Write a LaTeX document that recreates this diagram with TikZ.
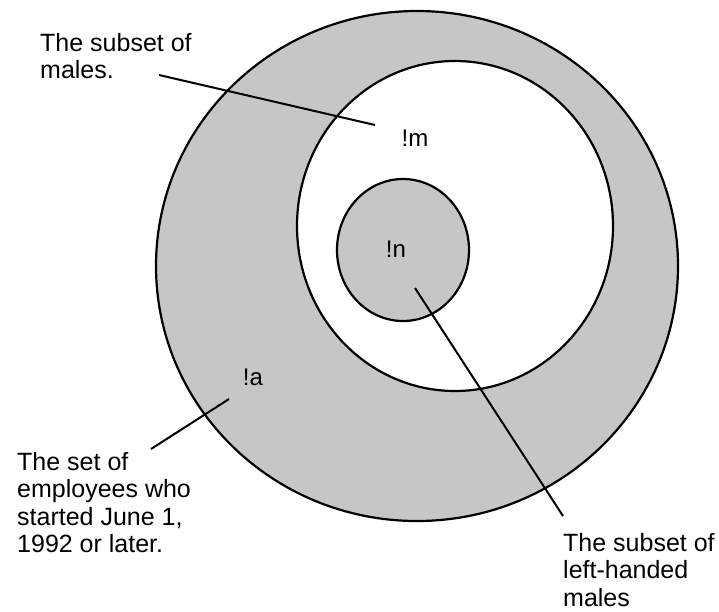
\documentclass[tikz,border=0pt]{standalone}
\usepackage{fontspec}
\setmainfont{Liberation Sans}
\usetikzlibrary{shapes.geometric}
\definecolor{shade}{RGB}{198,198,198}
\begin{document}
\begin{tikzpicture}[x=1pt,y=-1pt,
  setshape/.style={ellipse,draw=black,line width=2.2pt,inner sep=0pt},
  lbl/.style={align=left,inner sep=0pt,anchor=north west,font=\fontsize{25}{27.5}\selectfont},
  tag/.style={inner sep=0pt,anchor=base,font=\fontsize{24}{26}\selectfont},
  lead/.style={draw=black,line width=2pt}]
\useasboundingbox (0,0) rectangle (719,611);
\node[setshape,fill=shade,minimum width=522pt,minimum height=510pt] (outer) at (417,266) {};
\node[setshape,fill=white,minimum width=316pt,minimum height=330pt] (inner) at (455,226) {};
\node[setshape,fill=shade,minimum width=132pt,minimum height=142pt] (small) at (403,250) {};
\node[tag] (m) at (415,146) {!m};
\node[tag] (n) at (396,257) {!n};
\node[tag] (a) at (253,385) {!a};
\node[lbl] (males) at (40,33) {The subset of\\males.};
\node[lbl] (emp) at (17,452) {The set of\\employees who\\started June 1,\\1992 or later.};
\node[lbl] (left) at (563,533) {The subset of\\left-handed\\males};
\coordinate (mS) at (159,75);
\coordinate (mE) at (375,125);
\coordinate (aS) at (151,449);
\coordinate (aE) at (229,399);
\coordinate (nS) at (415,288);
\coordinate (nE) at (563,516);
\draw[lead] (mS) -- (mE);
\draw[lead] (aS) -- (aE);
\draw[lead] (nS) -- (nE);
\end{tikzpicture}
\end{document}
